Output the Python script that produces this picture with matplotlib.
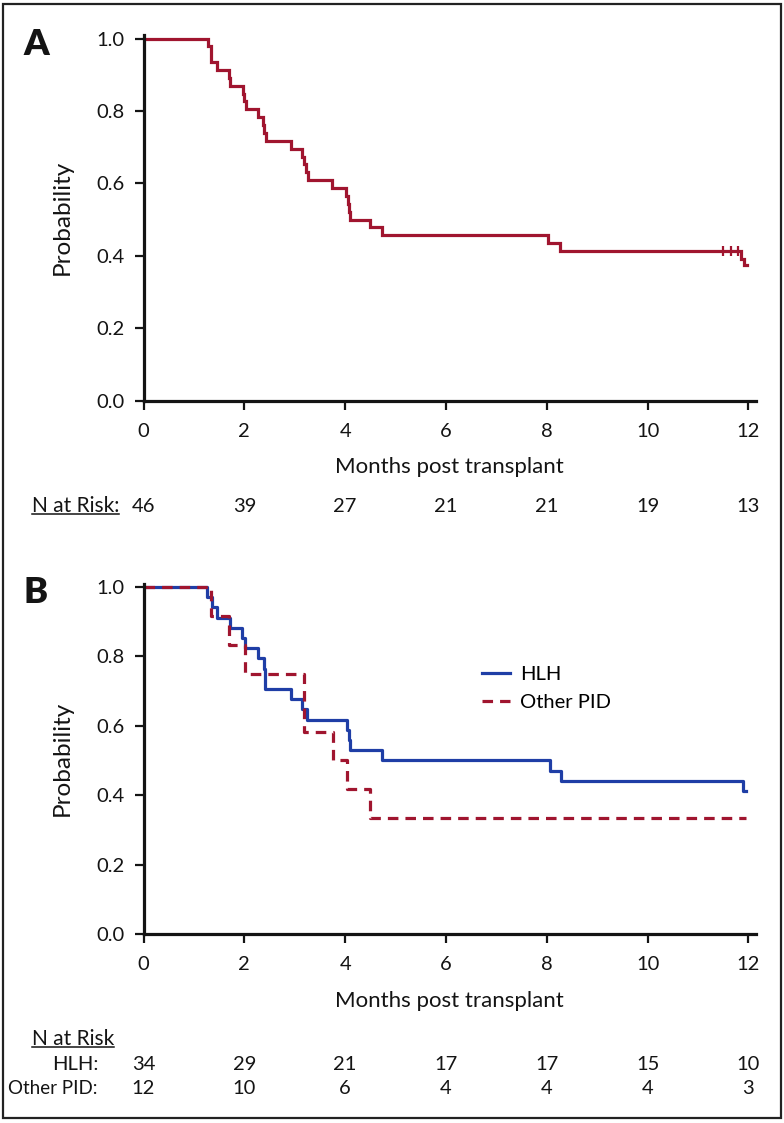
import matplotlib
matplotlib.use('Agg')
import matplotlib.pyplot as plt
from matplotlib.patches import Rectangle
from matplotlib.lines import Line2D
from matplotlib.transforms import blended_transform_factory

plt.rcParams['font.family'] = ['Lato', 'DejaVu Sans']

# panel A: all patients (step times in months, survival after step)
a_times = [0, 1.28, 1.34, 1.45, 1.69, 1.72, 1.98, 2.00, 2.03, 2.27, 2.37, 2.40, 2.43,
           2.93, 3.15, 3.19, 3.23, 3.26, 3.74, 4.02, 4.05, 4.07, 4.10, 4.50, 4.73,
           8.02, 8.27, 11.86, 11.92, 11.97]
a_surv = [1.0, 45/46, 43/46, 42/46, 41/46, 40/46, 39/46, 38/46, 37/46, 36/46, 35/46, 34/46, 33/46,
          32/46, 31/46, 30/46, 29/46, 28/46, 27/46, 26/46, 25/46, 24/46, 23/46, 22/46, 21/46,
          20/46, 19/46, 0.39, 0.375, 0.375]
a_cens_t = [11.49, 11.65, 11.79]
a_cens_s = [19/46, 19/46, 19/46]

# panel B: HLH vs other PID
hlh_times = [0, 1.26, 1.36, 1.46, 1.72, 1.95, 2.02, 2.28, 2.39, 2.42, 2.93, 3.14, 3.25,
             4.03, 4.07, 4.10, 4.73, 8.06, 8.29, 11.89, 11.95]
hlh_surv = [1.0, 33/34, 32/34, 31/34, 30/34, 29/34, 28/34, 27/34, 26/34, 24/34, 23/34, 22/34, 21/34,
            20/34, 19/34, 18/34, 17/34, 16/34, 15/34, 14/34, 14/34]
pid_times = [0, 1.34, 1.69, 2.01, 3.18, 3.76, 4.04, 4.50, 11.95]
pid_surv = [1.0, 11/12, 10/12, 9/12, 7/12, 6/12, 5/12, 4/12, 4/12]

xticks = [0, 2, 4, 6, 8, 10, 12]
risk_all = ['46', '39', '27', '21', '21', '19', '13']
risk_hlh = ['34', '29', '21', '17', '17', '15', '10']
risk_pid = ['12', '10', '6', '4', '4', '4', '3']

RED = '#A0152F'
BLUE = '#1F3EA6'
TXT = '#141414'

W, H = 784, 1123
fig = plt.figure(figsize=(W / 100, H / 100), dpi=100)
fig.patch.set_facecolor('white')

def px(x, y):
    return x / W, 1 - y / H

axA = fig.add_axes([143.5 / W, 1 - 400.5 / H, 612.5 / W, 365.6 / H])
axB = fig.add_axes([143.5 / W, 1 - 934 / H, 612.5 / W, 350.5 / H])

for ax in (axA, axB):
    ax.set_xlim(0, 12.15)
    ax.set_ylim(0, 1.01)
    ax.set_xticks(xticks)
    ax.set_yticks([0, 0.2, 0.4, 0.6, 0.8, 1.0])
    ax.set_yticklabels(['0.0', '0.2', '0.4', '0.6', '0.8', '1.0'])
    for s in ('top', 'right'):
        ax.spines[s].set_visible(False)
    for s in ('left', 'bottom'):
        ax.spines[s].set_linewidth(2.3)
        ax.spines[s].set_color(TXT)
    ax.tick_params(axis='both', direction='out', length=6.5, width=1.6, colors=TXT,
                   labelsize=14.5)
    ax.tick_params(axis='x', pad=9.5)
    ax.tick_params(axis='y', pad=7)
    ax.set_xlabel('Months post transplant', fontsize=16, color=TXT)
    ax.set_ylabel('Probability', fontsize=17.5, color=TXT)
    ax.yaxis.set_label_coords(-0.115, 0.5)

axA.xaxis.set_label_coords(0.5, -0.155)
axB.xaxis.set_label_coords(0.5, -0.164)

# curves
axA.step(a_times, a_surv, where='post', color=RED, lw=2.3, solid_joinstyle='miter')
axA.plot(a_cens_t, a_cens_s, ls='none', marker='|', ms=7.5, mew=1.6, color=RED)

axB.step(hlh_times, hlh_surv, where='post', color=BLUE, lw=2.3, label='HLH')
axB.step(pid_times, pid_surv, where='post', color=RED, lw=2.3, dashes=(3.3, 2.2),
         label='Other PID')
axB.legend(loc='center left', bbox_to_anchor=(0.553, 0.701), frameon=False, fontsize=14.5,
           handlelength=1.4, handletextpad=0.5, labelspacing=0.55, borderpad=0,
           borderaxespad=0)

# panel letters
fig.text(*px(23, 55), 'A', fontsize=26, fontweight='heavy', color=TXT, va='baseline')
fig.text(*px(24, 603), 'B', fontsize=26, fontweight='heavy', color=TXT, va='baseline')

# risk tables
trA = blended_transform_factory(axA.transData, fig.transFigure)
trB = blended_transform_factory(axB.transData, fig.transFigure)
for x, n in zip(xticks, risk_all):
    axA.text(x, 1 - 511.7 / H, n, transform=trA, ha='center', va='baseline',
             fontsize=14.5, color=TXT, clip_on=False)
for x, n in zip(xticks, risk_hlh):
    axB.text(x, 1 - 1070 / H, n, transform=trB, ha='center', va='baseline',
             fontsize=14.5, color=TXT, clip_on=False)
for x, n in zip(xticks, risk_pid):
    axB.text(x, 1 - 1094 / H, n, transform=trB, ha='center', va='baseline',
             fontsize=14.5, color=TXT, clip_on=False)

hA = fig.text(*px(32, 511.7), 'N at Risk:', fontsize=15, color=TXT, va='baseline')
hB = fig.text(*px(32, 1045), 'N at Risk', fontsize=15, color=TXT, va='baseline')
fig.text(*px(98, 1070), 'HLH:', fontsize=14.5, color=TXT, va='baseline', ha='right')
fig.text(*px(98, 1094), 'Other PID:', fontsize=13.5, color=TXT, va='baseline', ha='right')

# underline the table headers
fig.canvas.draw()
r = fig.canvas.get_renderer()
for t, ybase in ((hA, 511.7), (hB, 1045)):
    bb = t.get_window_extent(r)
    yy = 1 - (ybase + 2.2) / H
    fig.add_artist(Line2D([bb.x0 / W, bb.x1 / W], [yy, yy], transform=fig.transFigure,
                          color=TXT, lw=1.1))

# outer frame
fig.add_artist(Rectangle((3 / W, 1 - 1118 / H), 778 / W, 1114 / H, transform=fig.transFigure,
                         fill=False, edgecolor='#222222', lw=1.6))

fig.savefig('out.png', dpi=100, facecolor='white')
